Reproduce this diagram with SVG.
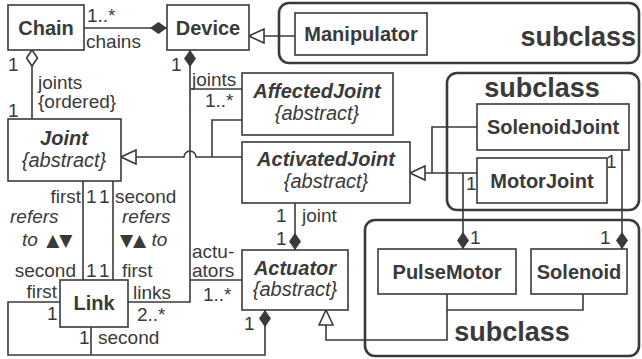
<svg xmlns="http://www.w3.org/2000/svg" width="642" height="359" viewBox="0 0 642 359">
<style>
.box{fill:#fff;stroke:#3a3a3a;stroke-width:1.6}
.frame{fill:none;stroke:#3a3a3a;stroke-width:2.6}
.ln{fill:none;stroke:#3a3a3a;stroke-width:1.6}
text{font-family:"Liberation Sans",Arial,sans-serif;fill:#3a3a3a}
.cn{font-weight:bold;font-size:20px}
.ci{font-weight:bold;font-style:italic;font-size:20px}
.ab{font-style:italic;font-size:20px}
.lb{font-size:19px}
.it{font-style:italic;font-size:19px}
.sub{font-weight:bold;font-size:27px}
.tri{font-family:"DejaVu Sans",sans-serif;font-size:17px;font-style:normal}
</style>
<defs>
<marker id="dia" markerUnits="userSpaceOnUse" viewBox="0 0 17 12" refX="17" refY="6" markerWidth="17" markerHeight="12" orient="auto">
<path d="M0,6 L8.5,0 L17,6 L8.5,12 Z" fill="#3a3a3a"/>
</marker>
<marker id="odia" markerUnits="userSpaceOnUse" viewBox="0 0 18 13" refX="17" refY="6.5" markerWidth="18" markerHeight="13" orient="auto">
<path d="M1,6.5 L9,1 L17,6.5 L9,12 Z" fill="#fff" stroke="#3a3a3a" stroke-width="1.6"/>
</marker>
<marker id="gen" markerUnits="userSpaceOnUse" viewBox="0 0 17 16" refX="16" refY="8" markerWidth="17" markerHeight="16" orient="auto">
<path d="M1,1 L16,8 L1,15 Z" fill="#fff" stroke="#3a3a3a" stroke-width="1.6"/>
</marker>
</defs>
<rect width="642" height="359" fill="#fff"/>

<g id="frames">
<rect class="frame" x="279" y="3" width="360" height="60" rx="10"/>
<rect class="frame" x="447" y="73" width="192" height="137" rx="10"/>
<rect class="frame" x="365" y="220" width="274" height="136" rx="10"/>
<text class="sub" x="636" y="46" text-anchor="end">subclass</text>
<text class="sub" x="542" y="97" text-anchor="middle">subclass</text>
<text class="sub" x="512" y="341" text-anchor="middle">subclass</text>
</g>

<g id="connectors">
<path class="ln" d="M84,28 L167,28" marker-end="url(#dia)"/>
<path class="ln" d="M32,119 L32,50" marker-end="url(#odia)"/>
<path class="ln" d="M295,36 L249,36" marker-end="url(#gen)"/>
<path class="ln" d="M128,302 L190,302 L190,50" marker-end="url(#dia)"/>
<path class="ln" d="M190,89 L242,89"/>
<path class="ln" d="M190,280 L242,280"/>
<path class="ln" d="M242,157 L196,157 A6,6 0 0 0 184,157 L121,157" marker-end="url(#gen)"/>
<path class="ln" d="M242,120 L212,120 L212,157"/>
<path class="ln" d="M295,203 L295,250" marker-end="url(#dia)"/>
<path class="ln" d="M83,181 L83,280"/>
<path class="ln" d="M113,181 L113,280"/>
<path class="ln" d="M60,302 L8,302 L8,355 L265,355 L265,310" marker-end="url(#dia)"/>
<path class="ln" d="M91,327 L91,355"/>
<path class="ln" d="M447,294 L447,340 L326,340 L326,310" marker-end="url(#gen)"/>
<path class="ln" d="M583,294 L583,310 L447,310"/>
<path class="ln" d="M477,173 L410,173" marker-end="url(#gen)"/>
<path class="ln" d="M477,127 L432,127 L432,173"/>
<path class="ln" d="M463,173 L463,249" marker-end="url(#dia)"/>
<path class="ln" d="M622,150 L622,249" marker-end="url(#dia)"/>
</g>

<g id="labels">
<text class="lb" x="87" y="22">1..*</text>
<text class="lb" x="86" y="48">chains</text>
<text class="lb" x="8" y="71">1</text>
<text class="lb" x="38" y="89">joints</text>
<text class="lb" x="38" y="108">{ordered}</text>
<text class="lb" x="8" y="117">1</text>
<text class="lb" x="171" y="71">1</text>
<text class="lb" x="192" y="86">joints</text>
<text class="lb" x="205" y="107">1..*</text>
<text class="lb" x="81" y="203" text-anchor="end">first</text>
<text class="lb" x="86" y="203">1</text>
<text class="lb" x="99" y="203">1</text>
<text class="lb" x="115" y="203">second</text>
<text class="it" x="10" y="223">refers</text>
<text class="it" x="22" y="246">to <tspan class="tri" dx="3">▲▼</tspan></text>
<text class="it" x="122" y="223">refers</text>
<text class="it" x="120" y="246"><tspan class="tri">▼▲</tspan> to</text>
<text class="lb" x="76" y="277" text-anchor="end">second</text>
<text class="lb" x="86" y="277">1</text>
<text class="lb" x="99" y="277">1</text>
<text class="lb" x="122" y="277">first</text>
<text class="lb" x="57" y="298" text-anchor="end">first</text>
<text class="lb" x="47" y="320">1</text>
<text class="lb" x="133" y="299">links</text>
<text class="lb" x="137" y="321">2..*</text>
<text class="lb" x="192" y="258">actu-</text>
<text class="lb" x="192" y="277">ators</text>
<text class="lb" x="203" y="301">1..*</text>
<text class="lb" x="79" y="344">1</text>
<text class="lb" x="98" y="344">second</text>
<text class="lb" x="244" y="330">1</text>
<text class="lb" x="276" y="222">1</text>
<text class="lb" x="302" y="222">joint</text>
<text class="lb" x="276" y="245">1</text>
<text class="lb" x="466" y="190">1</text>
<text class="lb" x="606" y="168">1</text>
<text class="lb" x="470" y="244">1</text>
<text class="lb" x="600" y="244">1</text>
</g>

<g id="Chain"><rect class="box" x="8" y="5" width="76" height="45"/><text class="cn" x="46" y="35" text-anchor="middle">Chain</text></g>
<g id="Device"><rect class="box" x="167" y="5" width="82" height="45"/><text class="cn" x="208" y="35" text-anchor="middle">Device</text></g>
<g id="Manipulator"><rect class="box" x="295" y="13" width="132" height="42"/><text class="cn" x="361" y="41" text-anchor="middle">Manipulator</text></g>
<g id="Joint"><rect class="box" x="8" y="119" width="113" height="62"/><text class="ci" x="64" y="145" text-anchor="middle">Joint</text><text class="ab" x="64" y="167" text-anchor="middle">{abstract}</text></g>
<g id="AffectedJoint"><rect class="box" x="242" y="73" width="151" height="62"/><text class="ci" x="317" y="98" text-anchor="middle">AffectedJoint</text><text class="ab" x="317" y="120" text-anchor="middle">{abstract}</text></g>
<g id="ActivatedJoint"><rect class="box" x="242" y="142" width="168" height="61"/><text class="ci" x="326" y="166" text-anchor="middle">ActivatedJoint</text><text class="ab" x="326" y="188" text-anchor="middle">{abstract}</text></g>
<g id="SolenoidJoint"><rect class="box" x="477" y="104" width="152" height="46"/><text class="cn" x="553" y="134" text-anchor="middle">SolenoidJoint</text></g>
<g id="MotorJoint"><rect class="box" x="477" y="158" width="130" height="45"/><text class="cn" x="542" y="188" text-anchor="middle">MotorJoint</text></g>
<g id="Actuator"><rect class="box" x="242" y="250" width="106" height="60"/><text class="ci" x="295" y="275" text-anchor="middle">Actuator</text><text class="ab" x="295" y="296" text-anchor="middle">{abstract}</text></g>
<g id="Link"><rect class="box" x="60" y="280" width="68" height="47"/><text class="cn" x="94" y="310" text-anchor="middle">Link</text></g>
<g id="PulseMotor"><rect class="box" x="378" y="249" width="138" height="45"/><text class="cn" x="447" y="279" text-anchor="middle">PulseMotor</text></g>
<g id="Solenoid"><rect class="box" x="531" y="249" width="96" height="45"/><text class="cn" x="579" y="279" text-anchor="middle">Solenoid</text></g>
</svg>
